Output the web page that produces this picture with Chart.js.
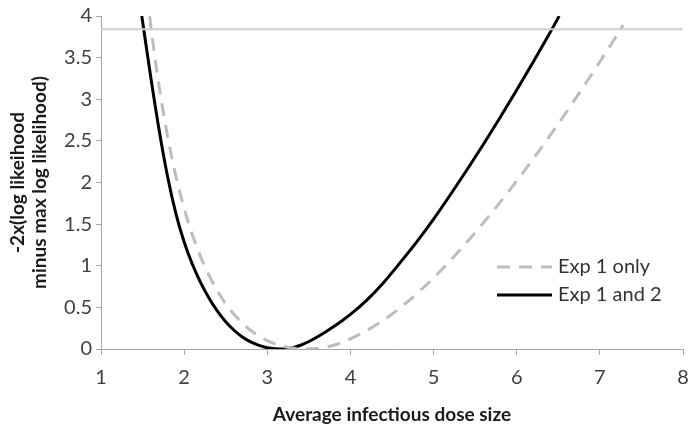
<!DOCTYPE html>
<html><head><meta charset="utf-8">
<script src="https://cdn.jsdelivr.net/npm/chart.js@4.4.1/dist/chart.umd.min.js"></script>
<style>html,body{margin:0;padding:0;background:#fff}#wrap{width:700px;height:438px}</style>
</head><body><div id="wrap"><canvas id="c" width="700" height="438"></canvas></div>
<script>
// ---- data ----
const seriesLabels = ['Exp 1 only', 'Exp 1 and 2'];
const exp1OnlyX = [1.585, 1.6, 1.7, 1.8, 1.9, 2.0, 2.1, 2.2, 2.3, 2.4, 2.5, 2.6, 2.7, 2.8, 2.9, 3.0, 3.1, 3.2, 3.3, 3.4, 3.5, 3.6, 3.7, 3.8, 3.9, 4.0, 4.2, 4.4, 4.6, 4.8, 5.0, 5.2, 5.4, 5.6, 5.8, 6.0, 6.2, 6.4, 6.6, 6.8, 7.0, 7.2, 7.28];
const exp1OnlyY = [4.0, 3.874, 3.149, 2.559, 2.079, 1.689, 1.369, 1.104, 0.884, 0.699, 0.544, 0.417, 0.312, 0.225, 0.155, 0.100, 0.059, 0.030, 0.012, 0.003, 0.0, 0.005, 0.020, 0.045, 0.079, 0.121, 0.223, 0.348, 0.496, 0.666, 0.855, 1.061, 1.282, 1.516, 1.762, 2.019, 2.286, 2.563, 2.850, 3.146, 3.450, 3.762, 3.89];
const exp12X = [1.49, 1.5, 1.6, 1.7, 1.8, 1.9, 2.0, 2.1, 2.2, 2.3, 2.4, 2.5, 2.6, 2.7, 2.8, 2.9, 3.0, 3.1, 3.2, 3.3, 3.4, 3.5, 3.6, 3.7, 3.8, 3.9, 4.0, 4.2, 4.4, 4.6, 4.8, 5.0, 5.2, 5.4, 5.6, 5.8, 6.0, 6.2, 6.4, 6.5, 6.51];
const exp12Y = [4.0, 3.935, 3.255, 2.625, 2.075, 1.63, 1.285, 1.015, 0.795, 0.61, 0.455, 0.328, 0.225, 0.145, 0.085, 0.043, 0.015, 0.003, 0.0, 0.013, 0.045, 0.09, 0.145, 0.205, 0.27, 0.34, 0.415, 0.59, 0.80, 1.04, 1.29, 1.56, 1.85, 2.15, 2.46, 2.78, 3.11, 3.45, 3.80, 3.98, 4.0];
const refLineX = [1, 8];
const refLineY = [3.84, 3.84];
const xTicks = [1, 2, 3, 4, 5, 6, 7, 8];
const yTicks = [0, 0.5, 1, 1.5, 2, 2.5, 3, 3.5, 4];
const xTitle = 'Average infectious dose size';
const yTitle = ['-2x(log likeihood', 'minus max log likelihood)'];

const toPts = (xs, ys) => xs.map((x, i) => ({x, y: ys[i]}));

const axisColor = '#a6a6a6';
const tickFont = {family: 'Lato', size: 20};
const titleFont = {family: 'Lato', size: 19, weight: 'bold', lineHeight: '22px'};

const inlineLegend = {
  id: 'inlineLegend',
  afterDatasetsDraw(chart) {
    const ctx = chart.ctx;
    const items = [chart.data.datasets[1], chart.data.datasets[2]];
    const x0 = 497, x1 = 552, tx = 558;
    const rows = [267, 295];
    ctx.save();
    items.forEach((ds, i) => {
      const y = rows[i];
      ctx.beginPath();
      ctx.setLineDash(ds.borderDash || []);
      ctx.strokeStyle = ds.borderColor;
      ctx.lineWidth = ds.borderWidth;
      ctx.moveTo(x0, y);
      ctx.lineTo(x1, y);
      ctx.stroke();
      ctx.setLineDash([]);
      ctx.fillStyle = '#333';
      ctx.font = '20px Lato';
      ctx.textBaseline = 'middle';
      ctx.textAlign = 'left';
      ctx.fillText(ds.label, tx, y);
    });
    ctx.restore();
  }
};

new Chart(document.getElementById('c'), {
  type: 'scatter',
  data: {
    datasets: [
      {label: 'ref', data: toPts(refLineX, refLineY), showLine: true, borderColor: '#cfcfcf', borderWidth: 2, pointRadius: 0},
      {label: seriesLabels[0], data: toPts(exp1OnlyX, exp1OnlyY), showLine: true, borderColor: '#bdbdbd', borderWidth: 3, borderDash: [13, 9], pointRadius: 0, cubicInterpolationMode: 'monotone'},
      {label: seriesLabels[1], data: toPts(exp12X, exp12Y), showLine: true, borderColor: '#000000', borderWidth: 3, pointRadius: 0, cubicInterpolationMode: 'monotone'}
    ]
  },
  options: {
    responsive: false,
    animation: false,
    devicePixelRatio: 1,
    layout: {padding: {top: 15, right: 17, left: 0, bottom: 0}},
    plugins: {legend: {display: false}, tooltip: {enabled: false}},
    scales: {
      x: {
        type: 'linear', min: 1, max: 8,
        afterBuildTicks: s => { s.ticks = xTicks.map(v => ({value: v})); },
        afterFit: s => { s.height = 89; },
        grid: {display: true, drawOnChartArea: false, drawTicks: true, tickLength: 6, color: axisColor},
        border: {color: axisColor, width: 1},
        ticks: {color: '#404040', font: tickFont, padding: 11, maxRotation: 0, callback: v => String(v)},
        title: {display: true, text: xTitle, color: '#1a1a1a', font: titleFont, padding: {top: 0, bottom: 12}}
      },
      y: {
        min: 0, max: 4,
        afterBuildTicks: s => { s.ticks = yTicks.map(v => ({value: v})); },
        afterFit: s => { s.width = 101; },
        grid: {display: true, drawOnChartArea: false, drawTicks: true, tickLength: 5, color: axisColor},
        border: {color: axisColor, width: 1},
        ticks: {color: '#404040', font: tickFont, padding: 4, callback: v => String(v)},
        title: {display: true, text: yTitle, color: '#1a1a1a', font: titleFont, padding: {top: 7, bottom: 0}}
      }
    }
  },
  plugins: [inlineLegend]
});
</script></body></html>
